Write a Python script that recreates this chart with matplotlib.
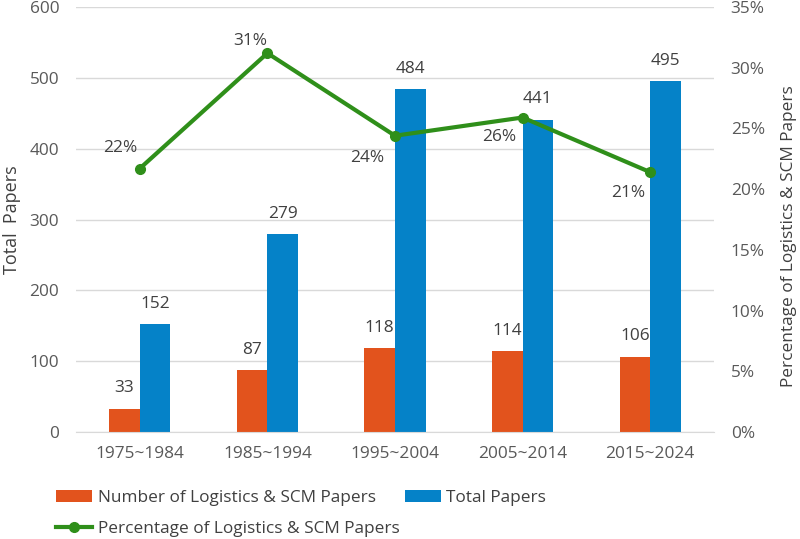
import numpy as np
import matplotlib
matplotlib.use('Agg')
import matplotlib.pyplot as plt
from matplotlib.ticker import FuncFormatter

plt.rcParams['font.family'] = ['Open Sans', 'DejaVu Sans']

# data
periods = ['1975~1984', '1985~1994', '1995~2004', '2005~2014', '2015~2024']
scm_papers = [33, 87, 118, 114, 106]
total_papers = [152, 279, 484, 441, 495]
pct_scm = [21.7, 31.2, 24.4, 25.9, 21.4]

# label offsets (points) for percentage labels
pct_offsets = [(-14, 15), (-12, 9), (-20, -16), (-17, -14), (-16, -15)]

orange = '#E2531D'
blue = '#0582C8'
green = '#2F8F1A'
txt = '#404040'
tickc = '#595959'
fs = 12.4

fig = plt.figure(figsize=(8, 5.39), dpi=100)
ax = fig.add_axes([0.095, 0.1985, 0.7975, 0.7885])
ax2 = ax.twinx()

x = np.arange(len(periods))
w = 0.24
b1 = ax.bar(x - w / 2, scm_papers, w, color=orange, label='Number of Logistics & SCM Papers', zorder=2)
b2 = ax.bar(x + w / 2, total_papers, w, color=blue, label='Total Papers', zorder=2)

for xi, v in zip(x - w / 2, scm_papers):
    ax.annotate(str(v), (xi, v), xytext=(0, 9), textcoords='offset points',
                ha='center', va='bottom', fontsize=fs, color=txt)
for xi, v in zip(x + w / 2, total_papers):
    ax.annotate(str(v), (xi, v), xytext=(0, 9), textcoords='offset points',
                ha='center', va='bottom', fontsize=fs, color=txt)

ln, = ax2.plot(x, pct_scm, color=green, lw=3, marker='o', ms=7,
               label='Percentage of Logistics & SCM Papers', zorder=3)
for xi, v, off in zip(x, pct_scm, pct_offsets):
    ax2.annotate('%d%%' % round(v), (xi, v), xytext=off, textcoords='offset points',
                 ha='center', va='center', fontsize=fs, color=txt)

ax.set_xlim(-0.5, len(periods) - 0.5)
ax.set_ylim(0, 600)
ax.set_yticks(range(0, 601, 100))
ax2.set_ylim(0, 35)
ax2.set_yticks(range(0, 36, 5))
ax2.yaxis.set_major_formatter(FuncFormatter(lambda v, p: '%d%%' % v))

ax.set_xticks(x)
ax.set_xticklabels(periods)
ax.grid(axis='y', color='#D9D9D9', lw=1, zorder=0)
ax.set_axisbelow(True)

for a in (ax, ax2):
    for s in a.spines.values():
        s.set_visible(False)
ax.spines['bottom'].set_visible(True)
ax.spines['bottom'].set_color('#D9D9D9')

ax.tick_params(axis='y', length=0, pad=12, labelsize=fs, labelcolor=tickc)
ax.tick_params(axis='x', length=0, pad=10, labelsize=fs, labelcolor=tickc)
ax2.tick_params(axis='y', length=0, pad=12, labelsize=fs, labelcolor=tickc)

ax.set_ylabel('Total  Papers', fontsize=13, color=txt, labelpad=6)
ax2.set_ylabel('Percentage of Logistics & SCM Papers', fontsize=fs, color=txt, labelpad=12)
ax2.yaxis.set_label_coords(1.105, 0.46)

fig.legend([b1, ln, b2], [b1.get_label(), ln.get_label(), b2.get_label()],
           ncol=2, loc='upper left', bbox_to_anchor=(0.051, 0.12), frameon=False,
           fontsize=fs, labelcolor=txt, handlelength=2.1, handletextpad=0.3,
           columnspacing=0.3, labelspacing=0.9)

fig.savefig('out.png', dpi=100)
